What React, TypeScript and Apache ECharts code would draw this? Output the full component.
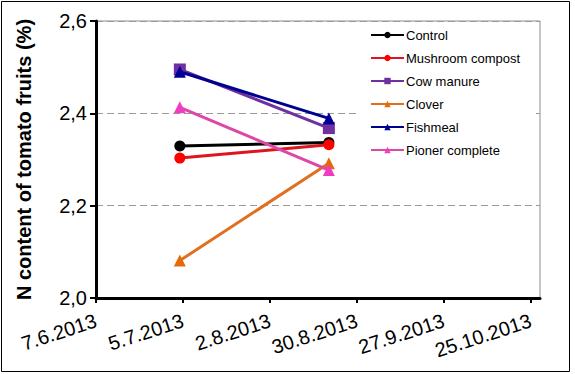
import React, { useEffect, useRef } from 'react';
import * as echarts from 'echarts';

// ---- data ----
const AXIS_START = '2013-06-07';
const AXIS_END = '2013-10-28';
const TICK_STEP_DAYS = 28;
const TICK_DATES = ['2013-06-07', '2013-07-05', '2013-08-02', '2013-08-30', '2013-09-27', '2013-10-25'];
const SAMPLING_DATES = ['2013-07-04', '2013-08-21'];

const SERIES_NAMES = ['Control', 'Mushroom compost', 'Cow manure', 'Clover', 'Fishmeal', 'Pioner complete'];
const control = [2.329, 2.337];
const mushroomCompost = [2.303, 2.332];
const cowManure = [2.495, 2.368];
const clover = [2.081, 2.292];
const fishmeal = [2.49, 2.389];
const pionerComplete = [2.413, 2.277];

const Y_MIN = 2.0;
const Y_MAX = 2.6;
const Y_STEP = 0.2;
const Y_TITLE = 'N content of tomato fruits (%)';

// ---- helpers ----
const DAY = 86400000;
const dayOffset = (d: string) => Math.round((Date.parse(d) - Date.parse(AXIS_START)) / DAY);
const fmtDate = (offset: number) => {
  const d = new Date(Date.parse(AXIS_START) + offset * DAY);
  return `${d.getUTCDate()}.${d.getUTCMonth() + 1}.${d.getUTCFullYear()}`;
};

const STYLES = [
  { symbol: 'circle', size: 11, line: '#000000', marker: '#000000' },
  { symbol: 'circle', size: 11, line: '#E0141E', marker: '#FF0000' },
  { symbol: 'rect', size: 12, line: '#7030A0', marker: '#7030A0' },
  { symbol: 'triangle', size: 12, line: '#E07020', marker: '#E36C09' },
  { symbol: 'triangle', size: 12, line: '#000090', marker: '#000099' },
  { symbol: 'triangle', size: 12, line: '#DD48A8', marker: '#F03CC0' },
];
const VALUES = [control, mushroomCompost, cowManure, clover, fishmeal, pionerComplete];

export default function App() {
  const ref = useRef<HTMLDivElement>(null);
  useEffect(() => {
    if (!ref.current) return;
    const chart = echarts.init(ref.current, undefined, { renderer: 'svg' });
    const tickOffsets = TICK_DATES.map(dayOffset);
    const font = 'Arial, "Liberation Sans", sans-serif';
    chart.setOption({
      animation: false,
      backgroundColor: '#ffffff',
      textStyle: { fontFamily: font },
      graphic: [
        {
          type: 'rect',
          shape: { x: 1.5, y: 1.5, width: 568, height: 370 },
          style: { fill: 'none', stroke: '#000', lineWidth: 1 },
          silent: true,
        },
      ],
      grid: {
        left: 96,
        right: 35,
        top: 21,
        bottom: 76,
        show: true,
        borderColor: '#8c8c8c',
        borderWidth: 1,
        backgroundColor: 'transparent',
        outerBoundsMode: 'none',
      },
      legend: {
        orient: 'vertical',
        left: 358,
        top: 22,
        padding: [6, 12, 6, 12],
        backgroundColor: '#ffffff',
        itemWidth: 33,
        itemHeight: 8,
        itemGap: 9,
        data: SERIES_NAMES,
        textStyle: { fontSize: 13, fontFamily: font, color: '#000', lineHeight: 14, padding: [0, 0, 0, -3] },
        z: 10,
      },
      xAxis: {
        type: 'value',
        min: 0,
        max: dayOffset(AXIS_END),
        interval: TICK_STEP_DAYS,
        axisLine: { show: true, onZero: false, lineStyle: { color: '#000', width: 3 } },
        axisTick: { show: true, length: 5, customValues: tickOffsets, lineStyle: { color: '#000', width: 2 } },
        axisLabel: {
          formatter: (v: number) => (v % TICK_STEP_DAYS === 0 ? fmtDate(v) : ''),
          rotate: 18,
          margin: 22,
          fontSize: 20,
          color: '#000',
          fontFamily: font,
          showMaxLabel: true,
          showMinLabel: true,
          hideOverlap: false,
        },
        splitLine: { show: false },
      },
      yAxis: {
        type: 'value',
        min: Y_MIN,
        max: Y_MAX,
        interval: Y_STEP,
        name: Y_TITLE,
        nameLocation: 'middle',
        nameGap: 62,
        nameTextStyle: { fontSize: 20, fontWeight: 'bold', color: '#000', fontFamily: font },
        axisLine: { show: true, lineStyle: { color: '#000', width: 3 } },
        axisTick: { show: true, length: 6, lineStyle: { color: '#000', width: 2 } },
        axisLabel: {
          formatter: (v: number) => v.toFixed(1).replace('.', ','),
          margin: 9,
          fontSize: 20,
          color: '#000',
          fontFamily: font,
        },
        splitLine: { show: true, lineStyle: { color: '#9a9a9a', width: 1, type: [7, 4] } },
      },
      series: SERIES_NAMES.map((name, i) => ({
        name,
        type: 'line',
        symbol: STYLES[i].symbol,
        symbolSize: STYLES[i].size,
        lineStyle: { color: STYLES[i].line, width: 3 },
        itemStyle: { color: STYLES[i].marker },
        data: SAMPLING_DATES.map((d, j) => [dayOffset(d), VALUES[i][j]]),
        z: 2 + i,
      })),
    });
    return () => chart.dispose();
  }, []);
  return (
    <div
      ref={ref}
      style={{ position: 'absolute', left: 0, top: 0, width: 575, height: 374 }}
    />
  );
}
